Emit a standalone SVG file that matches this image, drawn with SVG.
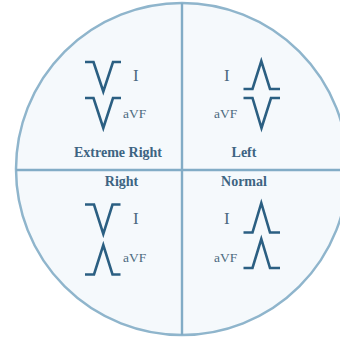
<svg xmlns="http://www.w3.org/2000/svg" width="340" height="338" viewBox="0 0 340 338">
<style>
.wave{fill:none;stroke:#2b5f82;stroke-width:2.6;stroke-linejoin:miter;stroke-linecap:butt}
.lead{font-family:"Liberation Serif",serif;fill:#4d6a80}
.big{font-size:17px}
.sm{font-size:13.5px}
.lbl{font-family:"Liberation Serif",serif;font-weight:bold;font-size:14px;fill:#3d6482;text-anchor:middle}
.div{stroke:#82acc6;stroke-width:2.4;fill:none}
</style>
<rect width="340" height="338" fill="#ffffff"/>
<g id="frame">
<circle cx="182" cy="169" r="166" fill="#f5f9fc" stroke="#8fb5cc" stroke-width="2.5"/>
<line class="div" x1="182" y1="3" x2="182" y2="335"/>
<line class="div" x1="16" y1="170" x2="340" y2="170"/>
</g>
<g id="extreme-right">
<path class="wave" d="M85,62 H93.5 L103.3,91.5 L113,62 H121"/>
<path class="wave" d="M85,98 H93.5 L103.3,128 L113,98 H121"/>
<text class="lead big" x="133" y="81">I</text>
<text class="lead sm" x="123" y="118">aVF</text>
<text class="lbl" x="118" y="157">Extreme Right</text>
</g>
<g id="left">
<path class="wave" d="M243.5,89 H252.5 L261.3,61 L270,89 H280"/>
<path class="wave" d="M243.5,98 H252.5 L261.5,128 L271,98 H280"/>
<text class="lead big" x="224" y="81">I</text>
<text class="lead sm" x="214" y="118">aVF</text>
<text class="lbl" x="244" y="157">Left</text>
</g>
<g id="right">
<path class="wave" d="M85,204.5 H94 L103.3,234 L112.5,204.5 H120.5"/>
<path class="wave" d="M85,274.5 H94 L103.3,245 L112.5,274.5 H120.5"/>
<text class="lead big" x="133" y="224">I</text>
<text class="lead sm" x="123" y="262">aVF</text>
<text class="lbl" x="121.5" y="186">Right</text>
</g>
<g id="normal">
<path class="wave" d="M243.5,232.5 H252.5 L261.3,203 L270,232.5 H280"/>
<path class="wave" d="M243.5,268 H252.5 L261.3,239 L270,268 H280"/>
<text class="lead big" x="224" y="224">I</text>
<text class="lead sm" x="214" y="262">aVF</text>
<text class="lbl" x="244" y="186">Normal</text>
</g>
<g id="connectors"/>
</svg>
